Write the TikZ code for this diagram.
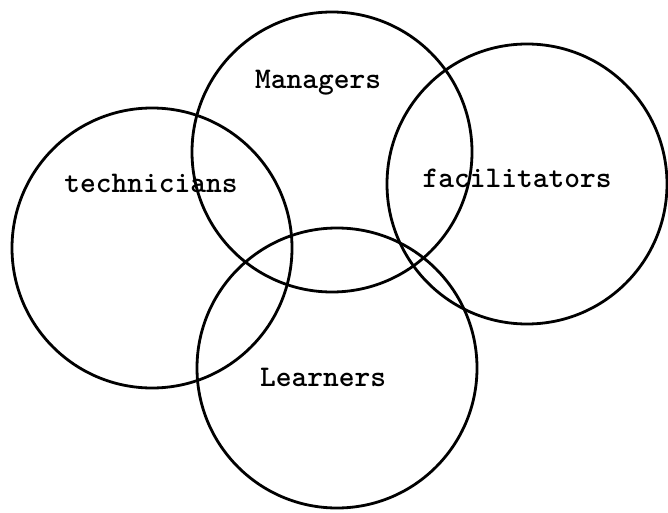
\documentclass[tikz,border=0pt]{standalone}
\usepackage{fontspec}
\begin{document}
\begin{tikzpicture}[x=1pt,y=-1pt,
  ring/.style={circle,draw=black,line width=2.8pt,minimum size=280pt,inner sep=0pt},
  lbl/.style={font=\fontsize{30}{30}\ttfamily\bfseries,inner sep=0pt,anchor=center}]
\useasboundingbox (0,0) rectangle (668,513);
\node[ring] (cman) at (332,152) {};
\node[ring] (ctech) at (152,248) {};
\node[ring] (cfac) at (527,184) {};
\node[ring] (clearn) at (337,368) {};
\node[lbl] (tman) at (318,83) {Managers};
\node[lbl] (ttech) at (151,183) {technicians};
\node[lbl] (tfac) at (517,178) {facilitators};
\node[lbl] (tlearn) at (323,377) {Learners};
\end{tikzpicture}
\end{document}
